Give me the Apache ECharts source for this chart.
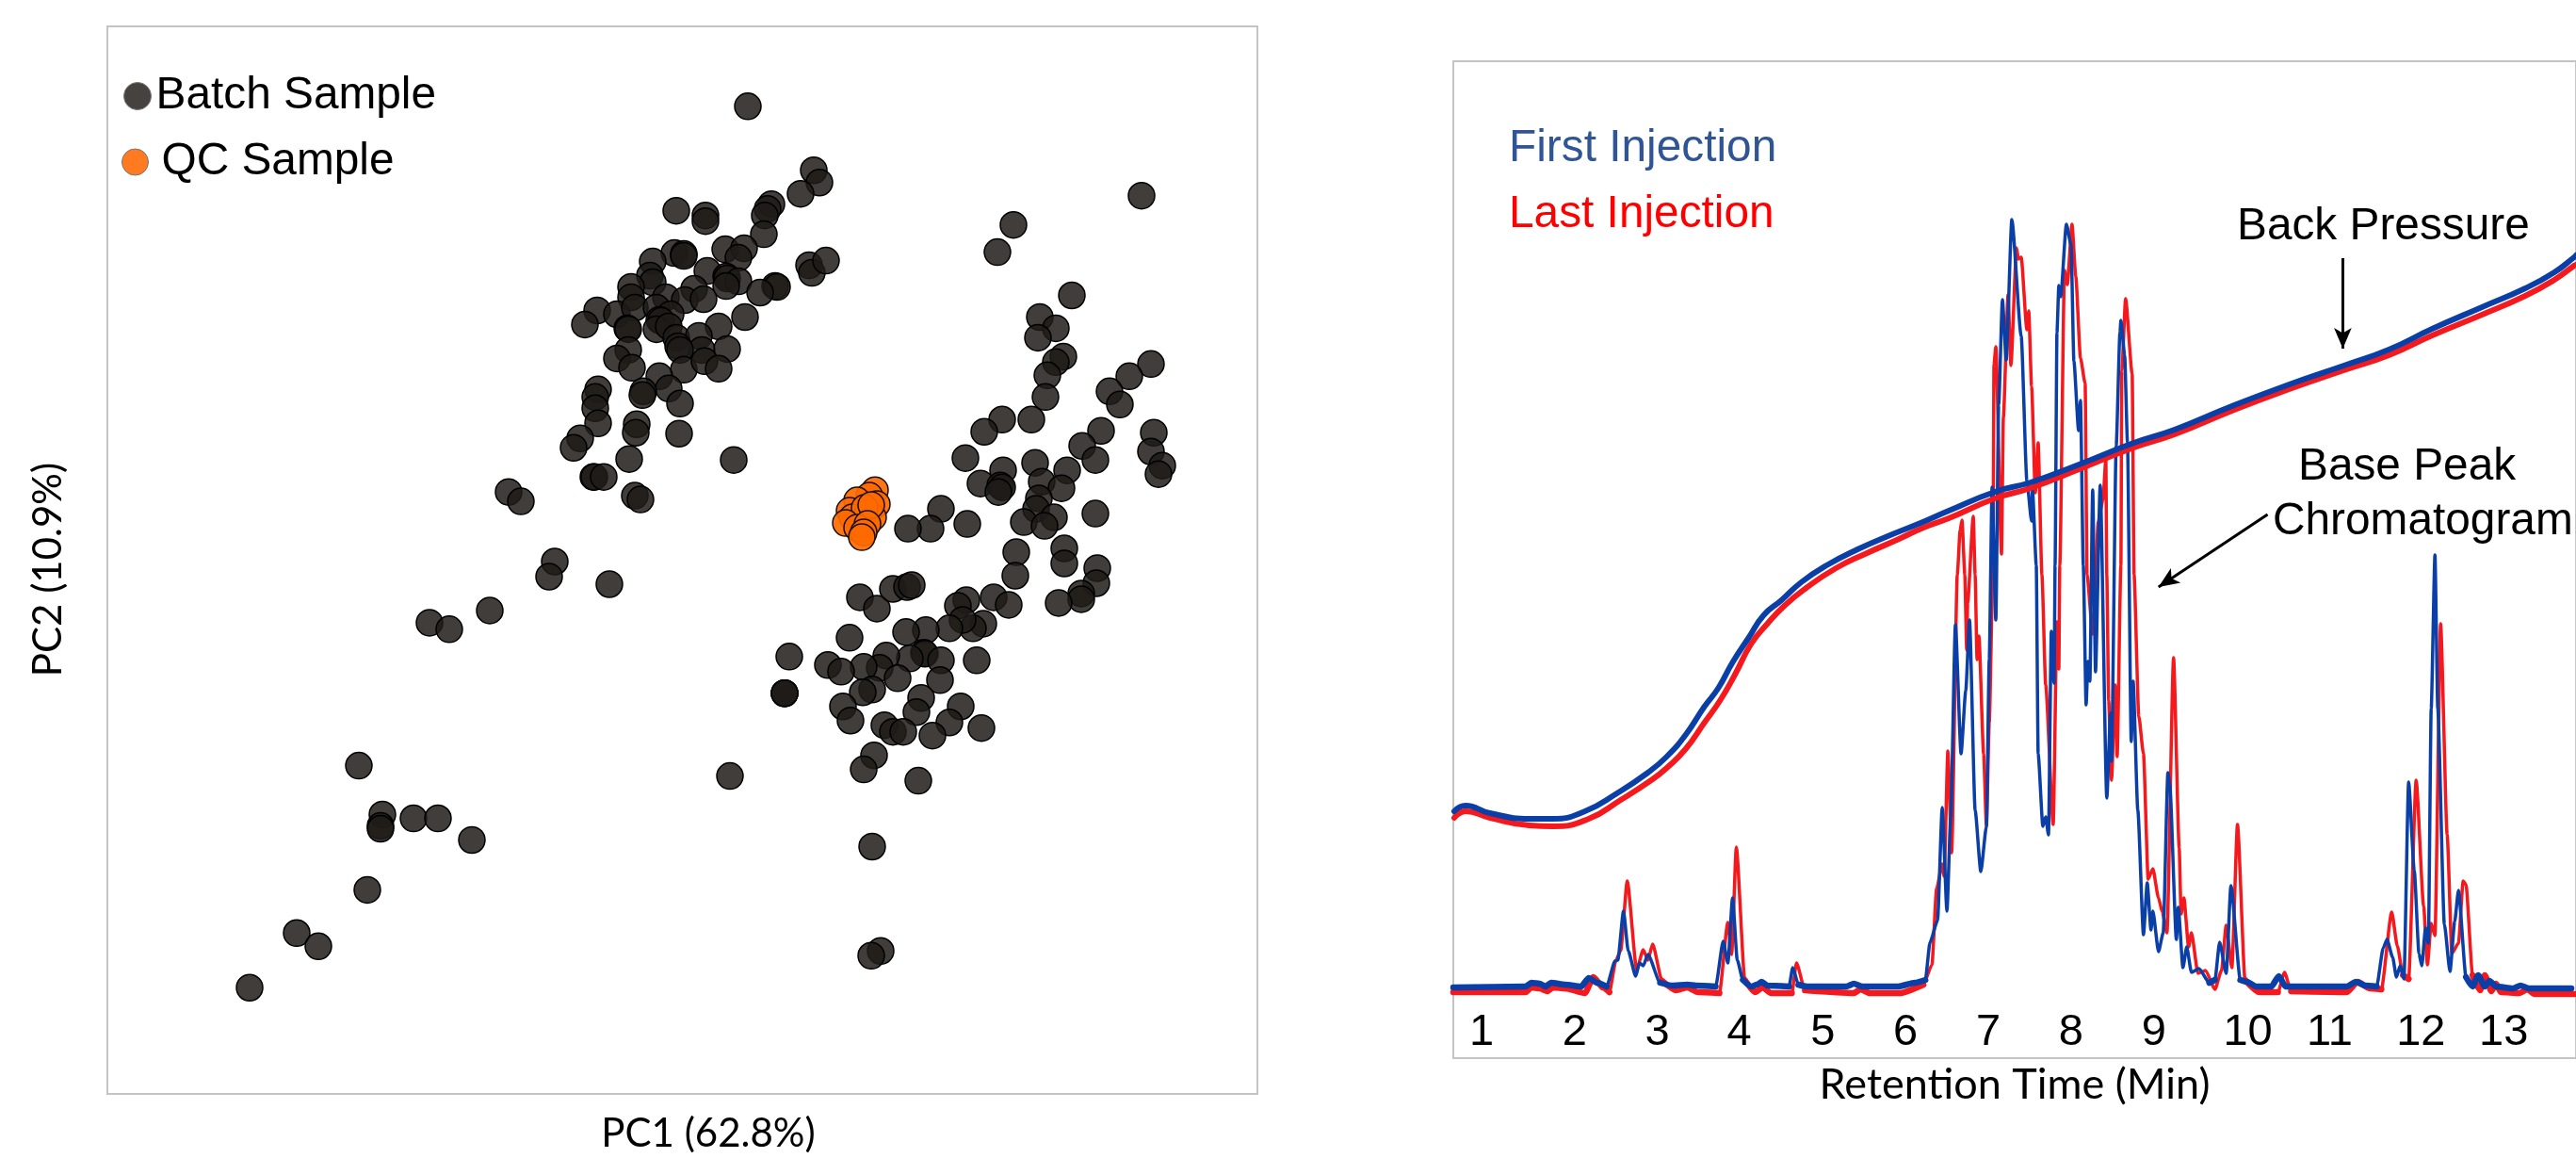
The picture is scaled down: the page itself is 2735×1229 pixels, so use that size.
<!DOCTYPE html>
<html><head><meta charset="utf-8">
<style>html,body{margin:0;padding:0;background:#fff}#c{width:2735px;height:1229px}</style>
<script src="https://cdn.jsdelivr.net/npm/echarts@6/dist/echarts.min.js"></script>
</head><body><div id="c"></div>
<script>
// PCA scores (PC1, PC2 in plot units)
const batchUpperCluster = [[680,1050],[750,982],[756,969],[736,957],[604,939],[635,934],[635,928],[705,946],[701,941],[698,934],[697,914],[602,894],[612,893],[612,891],[656,898],[676,899],[670,889],[579,885],[637,875],[657,869],[658,867],[670,864],[745,881],[748,873],[763,886],[709,859],[711,858],[693,852],[657,859],[576,870],[579,863],[556,858],[556,847],[593,847],[623,856],[613,844],[633,845],[520,833],[541,829],[560,836],[583,836],[677,826],[649,816],[507,818],[598,829],[586,823],[588,822],[552,814],[553,813],[583,813],[596,816],[604,804],[628,806],[631,791],[658,792],[606,795],[608,791],[553,791],[541,782],[557,772],[612,770],[634,779],[649,771],[586,763],[596,750],[569,747],[568,743],[608,734],[521,749],[518,741],[518,729],[521,713],[562,712],[561,703],[607,702],[502,697],[495,687],[554,675],[665,674],[516,656],[517,656],[527,656],[560,636],[566,632],[426,640],[439,630]];
const batchLowerCluster = [[1098,955],[962,924],[945,895],[1024,849],[990,826],[1007,814],[988,804],[1015,784],[1007,778],[998,764],[996,741],[1108,776],[1085,763],[1064,747],[1075,733],[950,717],[931,704],[981,717],[1055,705],[1035,689],[1049,674],[1111,703],[1108,683],[1120,668],[1116,659],[911,676],[951,663],[927,649],[948,647],[950,645],[946,640],[985,671],[1019,663],[992,651],[1013,644],[989,633],[986,622],[1005,613],[973,608],[995,604],[1049,617],[885,622],[913,606],[874,601],[850,601],[1016,580],[1016,564],[965,576],[964,551],[1051,559],[1050,543],[1034,532],[1034,526],[1010,522],[941,528],[957,520],[912,525],[903,519],[930,500],[919,495],[908,504],[894,495],[869,493],[848,491],[788,485],[724,465],[799,528],[817,516],[834,537],[849,539],[854,541],[923,461],[867,469],[868,468],[885,461],[852,463],[827,466],[820,453],[803,454],[765,456],[779,449],[839,442],[812,430],[802,427],[781,412],[789,397],[884,440],[864,421],[859,406],[906,412],[894,395],[928,389],[825,392],[834,385],[845,385],[876,381],[814,360],[803,345],[861,333],[719,426],[719,426],[719,426]];
const batchOutliers = [[475,566],[469,550],[533,542],[406,514],[342,501],[363,494],[267,349],[661,338],[292,297],[290,285],[290,282],[325,293],[351,293],[387,270],[276,217],[201,171],[224,157],[151,113],[812,263],[821,152],[811,147]];
const qcScores = [[815,642],[809,636],[817,627],[796,631],[788,620],[791,613],[807,617],[813,613],[804,623],[811,626],[784,607],[796,602],[807,606],[803,597],[801,592]];

// Chromatogram traces: [scan, signal]
const firstBpc = [[0,78],[77,79],[83,83],[92,82],[98,79],[104,83],[119,81],[136,79],[144,88],[153,83],[163,79],[172,106],[175,107],[181,159],[186,117],[194,90],[198,104],[202,101],[207,113],[220,83],[233,80],[249,81],[258,80],[279,79],[287,127],[292,104],[297,173],[302,107],[308,86],[317,79],[323,81],[328,84],[334,80],[357,79],[361,99],[367,81],[376,79],[418,79],[426,82],[435,79],[473,79],[491,83],[502,86],[507,126],[515,149],[520,269],[525,159],[529,259],[534,463],[540,326],[545,393],[549,468],[555,266],[561,201],[567,249],[570,426],[573,609],[577,468],[580,696],[584,808],[588,744],[594,893],[604,769],[610,616],[615,573],[616,606],[620,526],[622,326],[627,249],[630,259],[633,240],[636,456],[639,401],[640,526],[642,773],[644,823],[646,811],[652,888],[657,866],[660,743],[665,669],[667,701],[670,526],[673,378],[675,424],[677,403],[680,606],[683,413],[688,611],[695,279],[699,369],[700,318],[705,653],[709,773],[710,786],[714,749],[717,656],[721,339],[723,403],[728,266],[734,134],[738,189],[742,139],[744,159],[750,116],[755,136],[760,306],[762,293],[769,129],[771,163],[776,99],[780,121],[785,94],[793,98],[804,83],[810,86],[815,126],[822,93],[827,186],[837,86],[844,84],[854,79],[870,79],[878,90],[885,79],[950,79],[960,84],[970,80],[982,79],[989,120],[993,129],[999,110],[1003,89],[1007,101],[1011,87],[1016,296],[1022,202],[1027,114],[1030,101],[1034,141],[1037,125],[1040,374],[1044,537],[1047,374],[1054,145],[1060,95],[1065,148],[1069,181],[1077,89],[1084,79],[1090,91],[1097,79],[1102,85],[1109,79],[1127,77],[1135,80],[1144,77],[1189,77]];
const lastBpc = [[0,73],[77,73],[83,78],[92,77],[100,74],[106,78],[119,77],[140,72],[149,89],[159,78],[166,73],[173,107],[178,117],[185,191],[195,97],[202,118],[207,107],[212,124],[222,85],[237,75],[249,78],[260,73],[283,72],[292,147],[296,113],[301,227],[310,86],[321,73],[329,78],[338,72],[360,72],[365,104],[374,75],[426,72],[433,76],[443,72],[475,72],[500,81],[509,102],[514,183],[520,209],[522,196],[526,329],[530,221],[536,516],[539,563],[541,574],[544,516],[546,436],[547,486],[553,578],[555,516],[557,426],[559,451],[564,326],[567,249],[570,359],[574,526],[575,739],[577,758],[583,538],[585,683],[590,813],[593,738],[599,863],[601,851],[604,853],[610,776],[612,796],[615,716],[619,603],[622,656],[626,516],[630,399],[638,251],[642,466],[644,416],[645,526],[650,839],[653,824],[658,888],[662,833],[667,746],[672,719],[674,516],[680,453],[686,573],[691,596],[694,639],[695,516],[697,383],[700,298],[704,399],[706,323],[710,526],[711,733],[715,809],[722,729],[724,516],[729,366],[734,326],[739,193],[744,204],[750,173],[754,158],[759,136],[766,428],[772,226],[774,156],[777,173],[782,121],[785,136],[792,93],[800,96],[810,76],[817,96],[822,144],[828,99],[834,251],[842,86],[857,73],[877,73],[884,94],[891,74],[950,73],[962,84],[974,77],[987,76],[998,158],[1004,122],[1010,91],[1016,87],[1024,298],[1032,164],[1036,102],[1040,146],[1044,133],[1050,464],[1057,240],[1062,114],[1069,125],[1074,191],[1077,187],[1084,91],[1092,75],[1097,91],[1104,74],[1109,82],[1114,73],[1134,72],[1142,76],[1150,71],[1194,71]];
const firstPressure = [[1,265],[13,271],[39,263],[81,257],[106,257],[140,265],[174,284],[207,306],[227,323],[247,346],[267,376],[282,396],[297,423],[314,449],[330,473],[349,489],[370,508],[397,526],[430,543],[467,559],[497,571],[527,584],[576,604],[614,614],[668,634],[721,655],[767,670],[828,695],[889,718],[950,739],[995,755],[1041,777],[1094,800],[1140,820],[1171,837],[1192,853],[1194,855]];
const lastPressure = [[1,258],[13,265],[39,258],[81,250],[106,249],[144,257],[178,277],[212,299],[227,311],[247,331],[267,359],[284,383],[299,409],[317,443],[334,464],[352,483],[374,501],[407,523],[440,539],[474,554],[500,566],[527,576],[576,597],[614,608],[668,629],[721,650],[767,665],[828,690],[889,713],[950,734],[995,749],[1041,770],[1094,792],[1140,812],[1171,829],[1192,844],[1194,845]];
const retentionTicks = ['1','2','3','4','5','6','7','8','9','10','11','12','13'];
const retentionTickScans = [30,129,217,304,393,481,569,657,745,845,932,1029,1117];

const BLUE = '#0A3FA8', RED = '#F5181C', ARIAL = 'Liberation Sans', CAL = 'Lato';
const BORDER = '#C4C4C4';
const flatOnly = (rows, limit) => rows.map(r => r[1] <= limit ? r : [r[0], null]);
const lineSeries = (name, data, color, width, smooth, monotone) => ({
  name, type:'line', xAxisIndex:1, yAxisIndex:1, data, showSymbol:false, silent:true, smooth:smooth||false, smoothMonotone:monotone||null,
  clip:true, lineStyle:{color, width, join:'round', cap:'round'}, itemStyle:{color}, connectNulls:false
});
const pressureTop = lineSeries('First Injection', firstPressure, BLUE, 6, 0.5);
pressureTop.markLine = {
  silent:true, animation:false, label:{show:false}, symbol:['none','arrow'], symbolSize:[14,22],
  lineStyle:{color:'#000', width:3, type:'solid'},
  data:[
    [{coord:[946,852]},{coord:[946,756]}],
    [{coord:[866,580]},{coord:[750,503]}]
  ]
};
const dots = (name, data, fill, stroke) => ({
  name, type:'scatter', xAxisIndex:0, yAxisIndex:0, data, symbol:'circle', symbolSize:28, silent:true,
  itemStyle:{color:fill, borderColor:stroke, borderWidth:1.5, opacity:1}
});

const chart = echarts.init(document.getElementById('c'), null, {renderer:'canvas'});
chart.setOption({
  animation:false, backgroundColor:'#fff',
  grid:[
    {left:114, top:28, width:1221, height:1135, show:true, borderColor:BORDER, borderWidth:2, containLabel:false},
    {left:1543, top:65, width:1194, height:1058, show:true, borderColor:BORDER, borderWidth:2, containLabel:false}
  ],
  xAxis:[
    {type:'value', gridIndex:0, min:0, max:1221, axisLine:{show:false}, axisTick:{show:false}, axisLabel:{show:false}, splitLine:{show:false},
     name:'PC1 (62.8%)', nameLocation:'center', nameGap:21, nameTextStyle:{fontFamily:CAL, fontSize:42, color:'#000', padding:[0,0,0,55]}},
    {type:'value', gridIndex:1, min:0, max:1194, axisLine:{show:false}, axisTick:{show:false}, splitLine:{show:false},
     axisLabel:{inside:true, margin:3, customValues:retentionTickScans, fontFamily:ARIAL, fontSize:47, color:'#000',
       formatter:v => retentionTicks[retentionTickScans.indexOf(v)]},
     name:'Retention Time (Min)', nameLocation:'center', nameGap:6, nameTextStyle:{fontFamily:CAL, fontSize:45, color:'#000'}}
  ],
  yAxis:[
    {type:'value', gridIndex:0, min:0, max:1135, axisLine:{show:false}, axisTick:{show:false}, axisLabel:{show:false}, splitLine:{show:false},
     name:'PC2 (10.9%)', nameLocation:'center', nameGap:42, nameRotate:90, nameTextStyle:{fontFamily:CAL, fontSize:42, color:'#000', padding:[0,20,0,0]}},
    {type:'value', gridIndex:1, min:3, max:1061, axisLine:{show:false}, axisTick:{show:false}, axisLabel:{show:false}, splitLine:{show:false}}
  ],
  legend:[
    {data:[{name:'Batch Sample', icon:'circle', itemStyle:{color:'#45423F', borderColor:'#777', borderWidth:1}}], left:131, top:78, itemWidth:29, itemHeight:29, selectedMode:false, padding:0, textStyle:{fontFamily:ARIAL, fontSize:47.8, color:'#000'}},
    {data:[{name:'QC Sample', icon:'circle', itemStyle:{color:'#FF7A20', borderColor:'#777', borderWidth:1}}], left:129, top:148, itemWidth:28, itemHeight:28, selectedMode:false, padding:0, textStyle:{fontFamily:ARIAL, fontSize:47.8, color:'#000', padding:[0,0,0,9]}},
    {data:[{name:'First Injection', icon:'none'}], left:1597, top:134, itemWidth:0, itemHeight:0, selectedMode:false, padding:0, textStyle:{fontFamily:ARIAL, fontSize:47.8, color:'#2F5597'}},
    {data:[{name:'Last Injection', icon:'none'}], left:1597, top:204, itemWidth:0, itemHeight:0, selectedMode:false, padding:0, textStyle:{fontFamily:ARIAL, fontSize:47.8, color:'#FF0000'}}
  ],
  graphic:[
    {type:'text', left:2375, top:217, style:{text:'Back Pressure', fontFamily:ARIAL, fontSize:47.8, fill:'#000'}},
    {type:'text', left:2440, top:472, style:{text:'Base Peak', fontFamily:ARIAL, fontSize:47.8, fill:'#000'}},
    {type:'text', left:2413, top:530, style:{text:'Chromatogram', fontFamily:ARIAL, fontSize:47.8, fill:'#000'}}
  ],
  series:[
    dots('Batch Sample', batchUpperCluster, 'rgba(30,27,23,0.85)', '#000'),
    dots('Batch Sample', batchLowerCluster, 'rgba(30,27,23,0.85)', '#000'),
    dots('Batch Sample', batchOutliers, 'rgba(30,27,23,0.85)', '#000'),
    dots('QC Sample', qcScores, 'rgba(255,106,0,0.92)', '#1a0f05'),
    lineSeries('Last Injection', lastBpc, RED, 3.5, 0.2, 'x'),
    lineSeries('Last Injection', flatOnly(lastBpc, 92), RED, 6.5, 0.2, 'x'),
    lineSeries('First Injection', firstBpc, BLUE, 3.5, 0.2, 'x'),
    lineSeries('First Injection', flatOnly(firstBpc, 95), BLUE, 6.5, 0.2, 'x'),
    lineSeries('Last Injection', lastPressure, RED, 6, 0.5),
    pressureTop
  ]
});
</script></body></html>
